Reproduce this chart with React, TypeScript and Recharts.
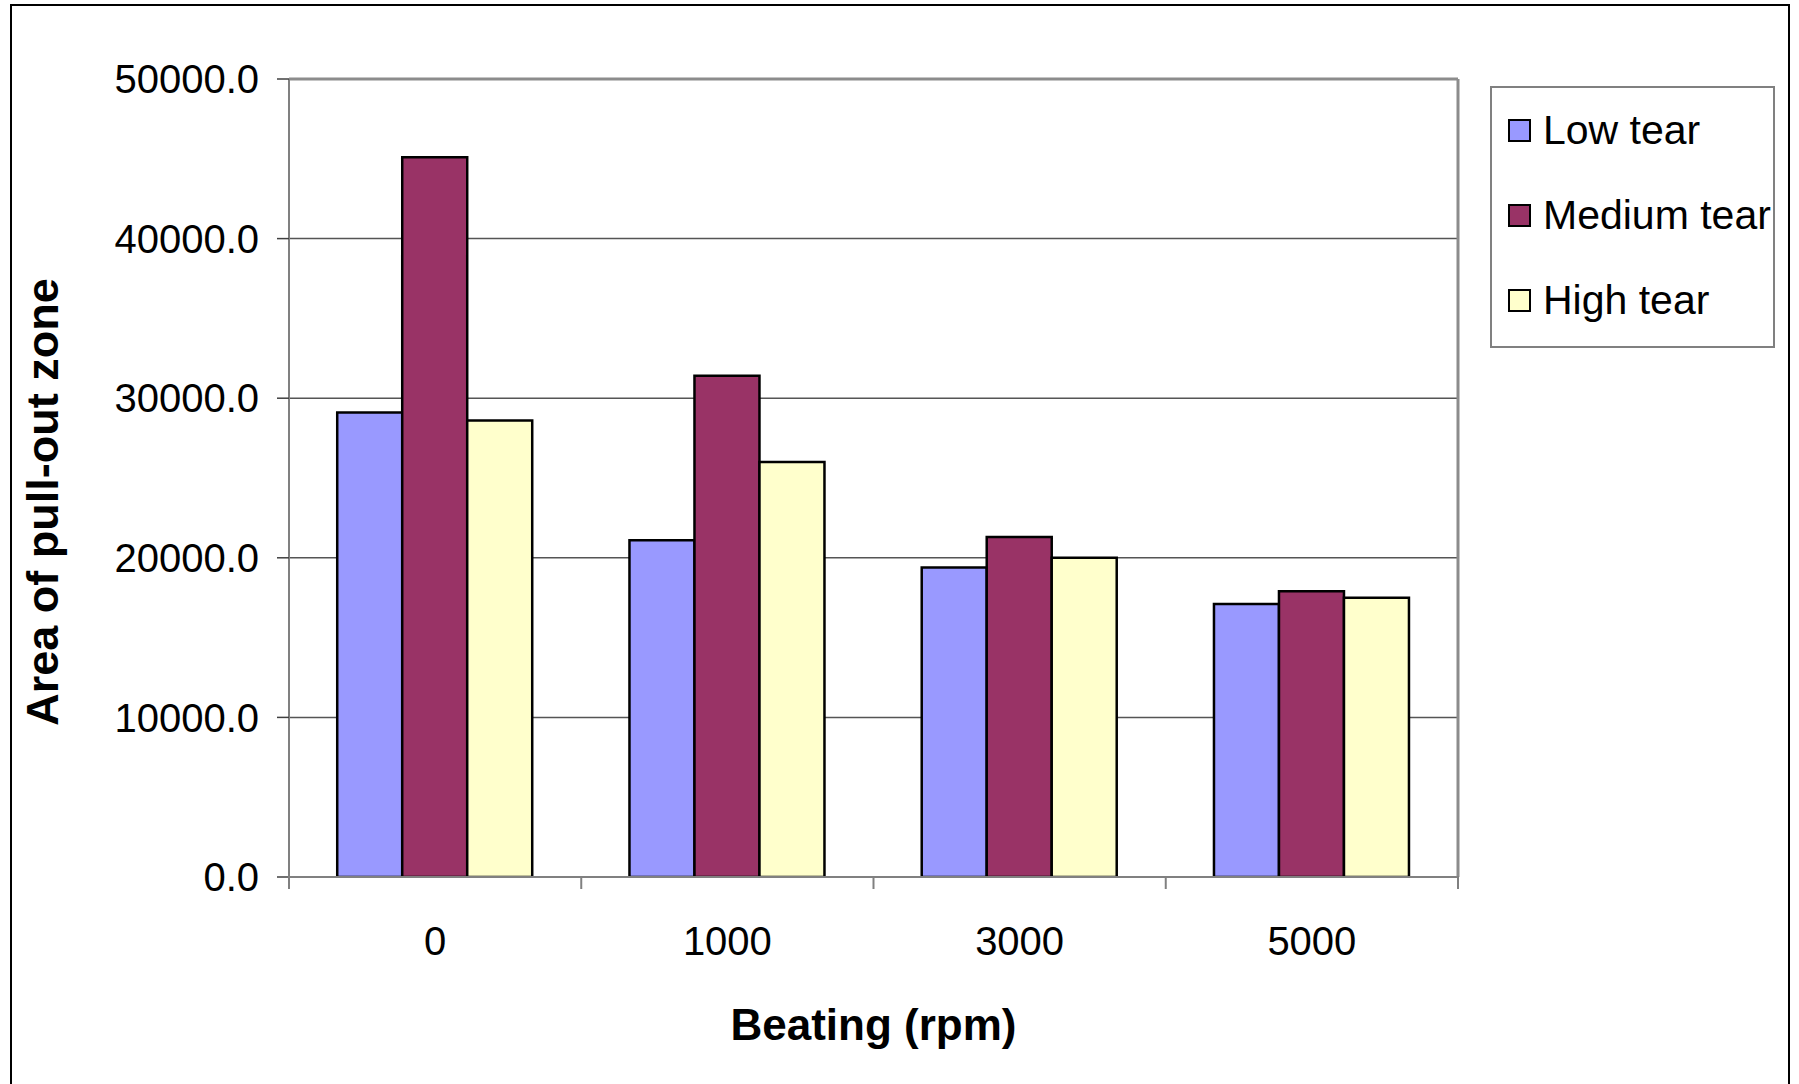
import { BarChart, Bar, XAxis, YAxis, CartesianGrid, Legend, ReferenceLine, Label } from 'recharts';

const beating = ['0', '1000', '3000', '5000'];
const seriesNames = ['Low tear', 'Medium tear', 'High tear'];
const lowTear = [29100, 21100, 19400, 17100];
const mediumTear = [45100, 31400, 21300, 17900];
const highTear = [28600, 26000, 20000, 17500];
const yTicks = [0, 10000, 20000, 30000, 40000, 50000];

const data = beating.map((name, i) => ({
  name,
  low: lowTear[i],
  medium: mediumTear[i],
  high: highTear[i],
}));

const FONT = '"Liberation Sans", Arial, sans-serif';

// category label, plus Excel-style tick marks on the category edges
function EdgeTick(props: any) {
  const { x, y, payload, index, visibleTicksCount } = props;
  const half = payload.offset || 0;
  const left = payload.coordinate - half;
  const right = payload.coordinate + half;
  return (
    <g>
      <line x1={left} x2={left} y1={y - 1} y2={y + 12} stroke="#808080" strokeWidth={2} />
      {index === visibleTicksCount - 1 && (
        <line x1={right} x2={right} y1={y - 1} y2={y + 12} stroke="#808080" strokeWidth={2} />
      )}
      <text x={x} y={y + 78} textAnchor="middle" fontSize={40} fill="#000" fontFamily={FONT}>
        {payload.value}
      </text>
    </g>
  );
}

function LegendBox({ payload }: any) {
  const items = [...(payload || [])].sort(
    (a: any, b: any) => seriesNames.indexOf(a.value) - seriesNames.indexOf(b.value)
  );
  return (
    <div
      style={{
        border: '2px solid #808080',
        width: 281,
        height: 258,
        boxSizing: 'content-box',
        background: '#fff',
        fontFamily: FONT,
      }}
    >
      {items.map((p: any) => (
        <div key={p.value} style={{ height: 85, display: 'flex', alignItems: 'center', paddingLeft: 16 }}>
          <span
            style={{
              width: 19,
              height: 19,
              background: p.color,
              border: '2.5px solid #000',
              display: 'inline-block',
              marginRight: 12,
            }}
          />
          <span style={{ fontSize: 41, color: '#000', lineHeight: 1 }}>{p.value}</span>
        </div>
      ))}
    </div>
  );
}

export default function App() {
  return (
    <div style={{ position: 'absolute', left: 0, top: 0, width: 1799, height: 1084, overflow: 'hidden', background: '#fff' }}>
      <div
        style={{
          position: 'absolute',
          left: 10,
          top: 4,
          width: 1780,
          height: 1100,
          border: '2px solid #000',
          boxSizing: 'border-box',
        }}
      />
      <div style={{ position: 'absolute', left: 0, top: 0 }}>
        <BarChart
          width={1799}
          height={1084}
          data={data}
          margin={{ top: 79, right: 340, left: 109, bottom: 206 }}
          barCategoryGap="16.5%"
          barGap={0}
          style={{ fontFamily: FONT }}
        >
          <CartesianGrid vertical={false} stroke="#555" strokeWidth={1.5} />
          <XAxis
            dataKey="name"
            height={1}
            axisLine={{ stroke: '#808080', strokeWidth: 2 }}
            tickLine={false}
            tickSize={0}
            tickMargin={0}
            interval={0}
            tick={<EdgeTick />}
          >
            <Label
              content={(props: any) => {
                const vb = props.viewBox || {};
                const cx = (vb.x || 0) + (vb.width || 0) / 2;
                return (
                  <text x={cx} y={1040} textAnchor="middle" fontSize={44} fontWeight="bold" fontFamily={FONT} fill="#000">
                    Beating (rpm)
                  </text>
                );
              }}
            />
          </XAxis>
          <YAxis
            width={180}
            domain={[0, 50000]}
            ticks={yTicks}
            allowDataOverflow
            tickFormatter={(v: number) => v.toFixed(1)}
            tickSize={12}
            tickMargin={18}
            tick={{ fontSize: 40, fill: '#000', fontFamily: FONT }}
            axisLine={{ stroke: '#808080', strokeWidth: 2 }}
            tickLine={{ stroke: '#404040', strokeWidth: 1.5 }}
          >
            <Label
              content={() => (
                <text
                  x={58}
                  y={502}
                  transform="rotate(-90, 58, 502)"
                  textAnchor="middle"
                  fontSize={45}
                  fontWeight="bold"
                  fontFamily={FONT}
                  fill="#000"
                >
                  Area of pull-out zone
                </text>
              )}
            />
          </YAxis>
          <YAxis
            yAxisId="frame"
            orientation="right"
            width={1}
            domain={[0, 50000]}
            tick={false}
            tickLine={false}
            axisLine={{ stroke: '#8c8c8c', strokeWidth: 3 }}
          />
          <ReferenceLine y={50000} stroke="#8c8c8c" strokeWidth={3} />
          <Legend
            layout="vertical"
            align="center"
            verticalAlign="middle"
            content={<LegendBox />}
            wrapperStyle={{ position: 'absolute', left: 1490, top: 86, width: 285, height: 262 }}
          />
          <Bar dataKey="low" name={seriesNames[0]} fill="#9999FF" stroke="#000" strokeWidth={2.5} isAnimationActive={false} />
          <Bar dataKey="medium" name={seriesNames[1]} fill="#993366" stroke="#000" strokeWidth={2.5} isAnimationActive={false} />
          <Bar dataKey="high" name={seriesNames[2]} fill="#FFFFCC" stroke="#000" strokeWidth={2.5} isAnimationActive={false} />
        </BarChart>
      </div>
    </div>
  );
}
